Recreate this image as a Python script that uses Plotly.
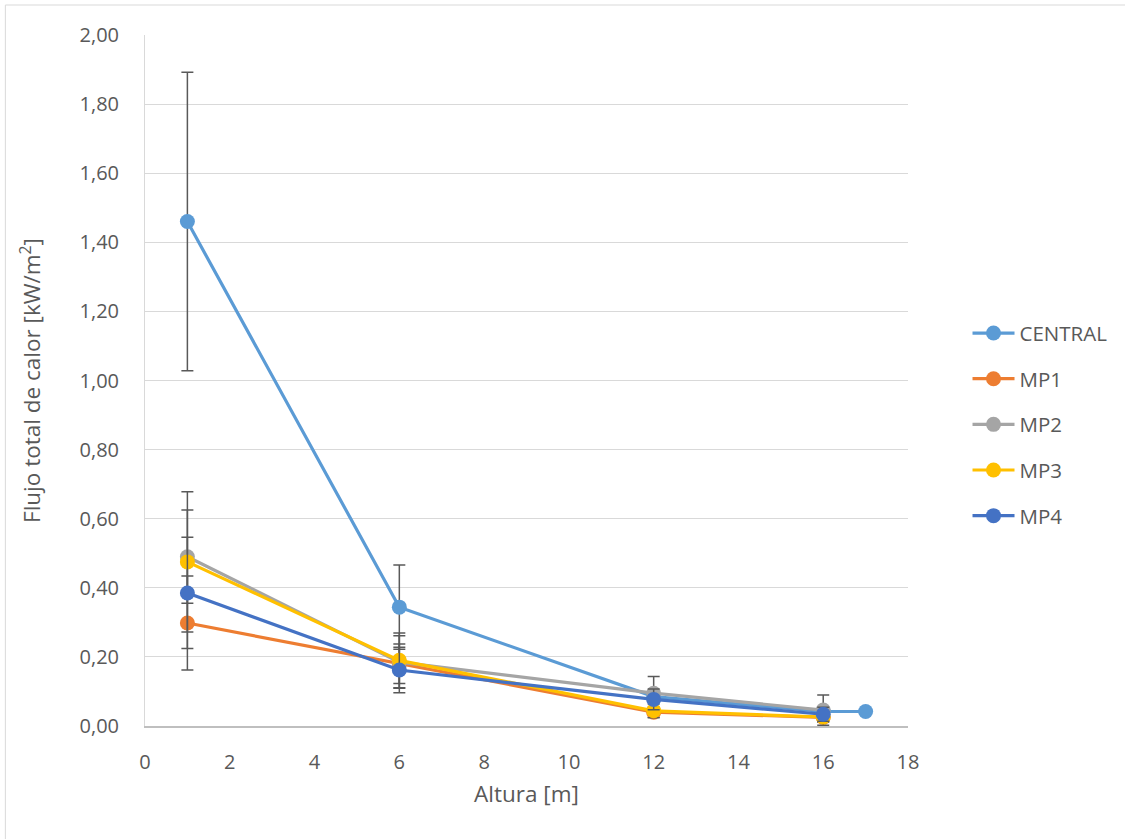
import plotly.graph_objects as go

# Heat flux measurements by height (x in m, y in kW/m2, symmetric error bars)
central_x = [1, 6, 12, 16, 17]
central_y = [1.46, 0.344, 0.085, 0.042, 0.042]
central_err = [0.432, 0.122, 0.0, 0.0, 0.0]

mp_x = [1, 6, 12, 16]
mp1_y = [0.298, 0.180, 0.040, 0.025]
mp1_err = [0.136, 0.057, 0.015, 0.012]
mp2_y = [0.490, 0.185, 0.095, 0.046]
mp2_err = [0.135, 0.076, 0.048, 0.044]
mp3_y = [0.475, 0.190, 0.044, 0.026]
mp3_err = [0.203, 0.079, 0.020, 0.015]
mp4_y = [0.385, 0.162, 0.077, 0.034]
mp4_err = [0.161, 0.066, 0.030, 0.020]

series = [
    ("CENTRAL", central_x, central_y, central_err, "#5B9BD5"),
    ("MP1", mp_x, mp1_y, mp1_err, "#ED7D31"),
    ("MP2", mp_x, mp2_y, mp2_err, "#A5A5A5"),
    ("MP3", mp_x, mp3_y, mp3_err, "#FFC000"),
    ("MP4", mp_x, mp4_y, mp4_err, "#4472C4"),
]

FONT = "Open Sans"
TXT = "#595959"
TICK_SIZE = 20
TITLE_SIZE = 22.5
LEGEND_SIZE = 20.5

fig = go.Figure()
for name, xs, ys, errs, color in series:
    fig.add_trace(go.Scatter(
        x=xs, y=ys, name=name, legendgroup=name,
        mode="lines+markers",
        line=dict(color=color, width=3.2),
        marker=dict(color=color, size=15),
        error_y=dict(type="data", array=errs, visible=True,
                     color="#595959", thickness=1.5, width=6),
    ))

fig.update_layout(
    width=1125, height=839,
    margin=dict(l=145, r=215, t=35, b=113),
    paper_bgcolor="white", plot_bgcolor="white",
    separators=",.",
    font=dict(family=FONT, size=TICK_SIZE, color=TXT),
    showlegend=True,
    legend=dict(x=1.078, xanchor="left", y=0.436, yanchor="middle",
                traceorder="grouped", tracegroupgap=16, itemwidth=42,
                font=dict(family=FONT, size=LEGEND_SIZE, color=TXT),
                bgcolor="rgba(0,0,0,0)"),
    xaxis=dict(
        range=[0, 18], dtick=2, tick0=0,
        showgrid=False, zeroline=False,
        showline=True, linecolor="#bfbfbf", linewidth=1.5,
        ticks="", ticklabelstandoff=17,
        tickfont=dict(family=FONT, size=TICK_SIZE, color=TXT),
        title=dict(text="Altura [m]",
                   font=dict(family=FONT, size=TITLE_SIZE, color=TXT),
                   standoff=12),
    ),
    yaxis=dict(
        range=[0, 2.0], dtick=0.2, tick0=0, tickformat=".2f",
        showgrid=True, gridcolor="#d9d9d9", gridwidth=1,
        zeroline=False,
        showline=True, linecolor="#d9d9d9", linewidth=1,
        ticks="", ticklabelstandoff=21,
        tickfont=dict(family=FONT, size=TICK_SIZE, color=TXT),
        title=dict(text="Flujo total de calor [kW/m<sup>2</sup>]",
                   font=dict(family=FONT, size=TITLE_SIZE, color=TXT),
                   standoff=32),
    ),
)

# Chart-area border (top and left edges sit inside the page)
fig.add_shape(type="rect", xref="paper", yref="paper",
              x0=-0.183, x1=1.32, y0=-0.2, y1=1.0434,
              line=dict(color="#d9d9d9", width=1), layer="below")

fig.write_html("out.html")
